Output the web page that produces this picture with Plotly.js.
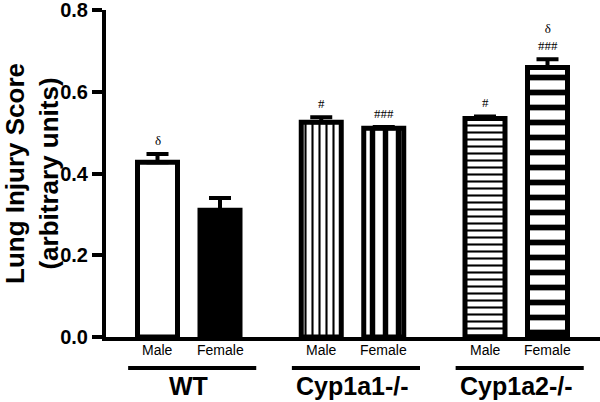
<!DOCTYPE html>
<html>
<head>
<meta charset="utf-8">
<script src="https://cdn.plot.ly/plotly-3.0.1.min.js"></script>
<style>html,body{margin:0;padding:0;background:#fff;}#chart{width:600px;height:402px;}</style>
</head>
<body>
<div id="chart"></div>
<script>
// ---- data ----
const groups = ['WT', 'Cyp1a1-/-', 'Cyp1a2-/-'];
const sexes = ['Male', 'Female'];
const maleScore = [0.428, 0.526, 0.535];
const femaleScore = [0.31, 0.511, 0.66];
const maleSem = [0.02, 0.012, 0.005];
const femaleSem = [0.03, 0.003, 0.02];
const maleMarks = ['δ', '#', '#'];
const femaleMarks = ['', '###', 'δ<br>###'];
const yTicks = [0.0, 0.2, 0.4, 0.6, 0.8];

// ---- styles ----
const groupStep = 2.62;
const barWidth = 0.64;
const fills = [['#ffffff', '#000000'], ['#000000', '#000000'], ['#000000', '#000000']];
const bgs = [['#ffffff', '#000000'], ['#f2f2f2', '#f2f2f2'], ['#f2f2f2', '#f2f2f2']];
const shapes_ = [['', ''], ['|', '|'], ['-', '-']];
const psize = [[8, 8], [7, 13], [7, 15]];
const psolid = [[0.3, 0.3], [0.3, 0.42], [0.3, 0.38]];

const xs = [], ys = [], errs = [], cols = [], pbg = [], pshape = [], pS = [], pSol = [];
const annotations = [];
const shapes = [];
const font = 'Liberation Sans, Arial, sans-serif';

groups.forEach((g, gi) => {
  const vals = [maleScore[gi], femaleScore[gi]];
  const es = [maleSem[gi], femaleSem[gi]];
  const marks = [maleMarks[gi], femaleMarks[gi]];
  sexes.forEach((s, si) => {
    const x = gi * groupStep + si;
    xs.push(x); ys.push(vals[si]); errs.push(es[si]);
    cols.push(fills[gi][si]); pbg.push(bgs[gi][si]); pshape.push(shapes_[gi][si]);
    pS.push(psize[gi][si]); pSol.push(psolid[gi][si]);
    annotations.push({x: x, xref: 'x', y: -0.04, yref: 'paper', text: s, showarrow: false,
      xanchor: 'center', yanchor: 'middle', font: {family: font, size: 14, color: '#000'}});
    if (marks[si]) {
      annotations.push({x: x, xref: 'x', y: vals[si] + es[si], yref: 'y', text: marks[si], showarrow: false,
        xanchor: 'center', yanchor: 'bottom', yshift: 4,
        font: {family: 'Liberation Serif, Times New Roman, serif', size: 13, color: '#000'}});
    }
  });
  const x0 = gi * groupStep - 0.47, x1 = gi * groupStep + 1.58;
  shapes.push({type: 'line', xref: 'x', yref: 'paper', x0: x0, x1: x1, y0: -0.095, y1: -0.095,
    line: {color: '#000', width: 4}});
  annotations.push({x: gi * groupStep + 0.5, xref: 'x', y: -0.15, yref: 'paper', text: '<b>' + g + '</b>',
    showarrow: false, xanchor: 'center', yanchor: 'middle', font: {family: font, size: 25, color: '#000'}});
});

const trace = {
  type: 'bar', x: xs, y: ys, width: barWidth,
  marker: {color: cols, line: {color: '#000', width: 5},
    pattern: {shape: pshape, size: pS, solidity: pSol, fgcolor: '#000000', bgcolor: pbg,
      fgopacity: 1, fillmode: 'replace'}},
  error_y: {type: 'data', symmetric: false, array: errs, arrayminus: errs.map(() => 0),
    color: '#000', thickness: 4, width: 11},
  hoverinfo: 'none'
};

const layout = {
  width: 600, height: 402,
  margin: {l: 106, r: 0, t: 10, b: 65},
  paper_bgcolor: '#fff', plot_bgcolor: '#fff',
  showlegend: false,
  xaxis: {range: [-0.824, 7.08], showline: true, linewidth: 4, linecolor: '#000',
    showticklabels: false, ticks: '', showgrid: false, zeroline: false, fixedrange: true},
  yaxis: {range: [0, 0.8005], showline: true, linewidth: 4, linecolor: '#000',
    ticks: 'outside', ticklen: 10, tickwidth: 4, tickcolor: '#000',
    tickvals: yTicks, tickformat: '.1f', showgrid: false, zeroline: false,
    ticklabeloverflow: 'allow',
    tickfont: {family: font, size: 20, color: '#000', weight: 'bold'},
    title: {text: 'Lung Injury Score<br>(arbitrary units)', standoff: 6,
      font: {family: font, size: 26, color: '#000', weight: 'bold'}}},
  annotations: annotations,
  shapes: shapes
};

Plotly.newPlot('chart', [trace], layout, {displayModeBar: false, staticPlot: true});
</script>
</body>
</html>
